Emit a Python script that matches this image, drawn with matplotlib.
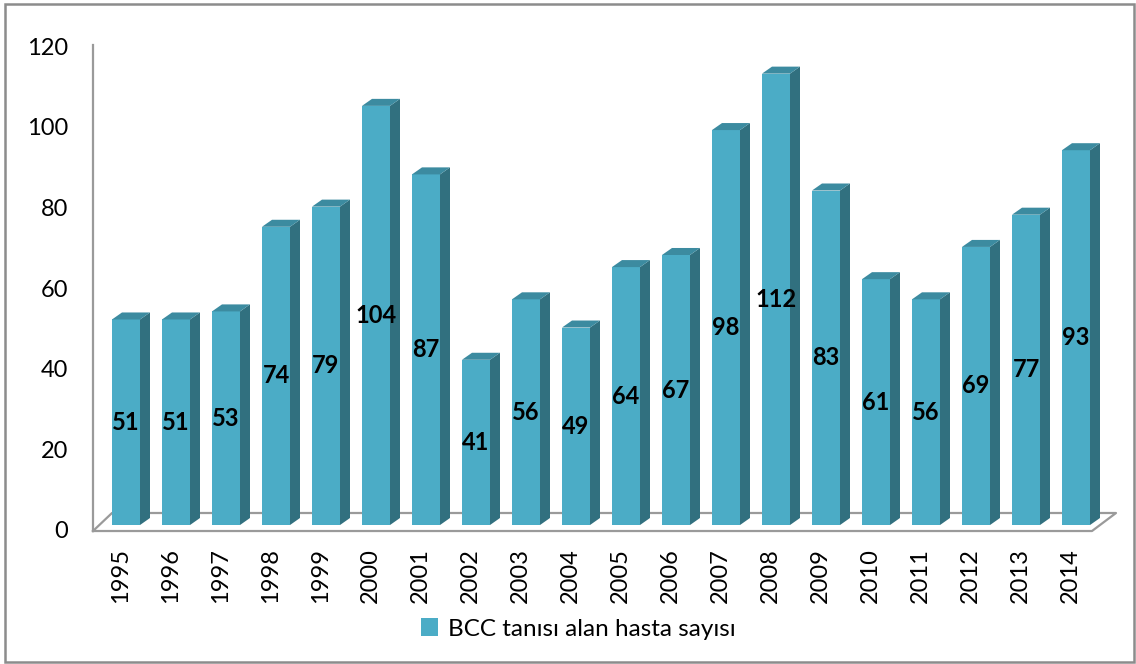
import matplotlib.pyplot as plt
from matplotlib.patches import Polygon, Rectangle

years = [str(y) for y in range(1995, 2015)]
counts = [51, 51, 53, 74, 79, 104, 87, 41, 56, 49, 64, 67, 98, 112, 83, 61, 56, 69, 77, 93]
yticks = [0, 20, 40, 60, 80, 100, 120]
series_name = 'BCC tanısı alan hasta sayısı'

plt.rcParams['font.family'] = ['Lato', 'DejaVu Sans']

front = '#4bacc6'
side = '#31707f'
top = '#3c8ba0'
grid_gray = '#9a9a9a'

# fake 3d depth in data units (x: categories, y: counts)
dx, dy = 0.2, 1.74
w = 0.56

fig = plt.figure(figsize=(11.36, 6.64), dpi=100)
ax = fig.add_axes([76 / 1136, 1 - 537.1 / 664, 1050 / 1136, (537.1 - 21.25) / 664])
ax.set_xlim(-1, 20)
ax.set_ylim(-3, 125)

# back wall and floor
ax.plot([-0.66, -0.66], [-1.49, 119.1], color=grid_gray, lw=1.6, clip_on=False)
ax.plot([-0.66, 19.32, 19.8, -0.28, -0.66], [-1.49, -1.49, 2.98, 2.98, -1.49],
        color=grid_gray, lw=1.6, clip_on=False)

pos = list(range(len(years)))
bars = ax.bar(pos, counts, width=w, color=front, zorder=3, label=series_name)
for i, v in zip(pos, counts):
    x0, x1 = i - w / 2, i + w / 2
    ax.add_patch(Polygon([(x1, 0), (x1, v), (x1 + dx, v + dy), (x1 + dx, dy)],
                         closed=True, facecolor=side, edgecolor='none', zorder=3))
    ax.add_patch(Polygon([(x0, v), (x0 + dx, v + dy), (x1 + dx, v + dy), (x1, v)],
                         closed=True, facecolor=top, edgecolor='none', zorder=3))
    ax.text(i, v / 2, str(v), ha='center', va='center', fontsize=17,
            fontweight='bold', color='black', zorder=5)

ax.set_xticks([p - 0.11 for p in pos], years, rotation=90, fontsize=17)
ax.set_yticks([t - 1.2 for t in yticks], [str(t) for t in yticks], fontsize=17)
ax.tick_params(axis='x', length=0, pad=8)
ax.tick_params(axis='y', length=0, pad=5.8)
for s in ax.spines.values():
    s.set_visible(False)

fig.legend(handles=[bars], labels=[series_name], loc='center',
           bbox_to_anchor=(578 / 1136, 1 - 629 / 664), frameon=False,
           fontsize=17.5, handlelength=0.7, handleheight=0.7, handletextpad=0.4)

# outer chart border
fig.patches.append(Rectangle((5 / 1136, 2 / 664), 1129 / 1136, 658 / 664,
                             transform=fig.transFigure, fill=False,
                             edgecolor='#8c8c8c', lw=1.8))

fig.savefig('out.png', dpi=100)
